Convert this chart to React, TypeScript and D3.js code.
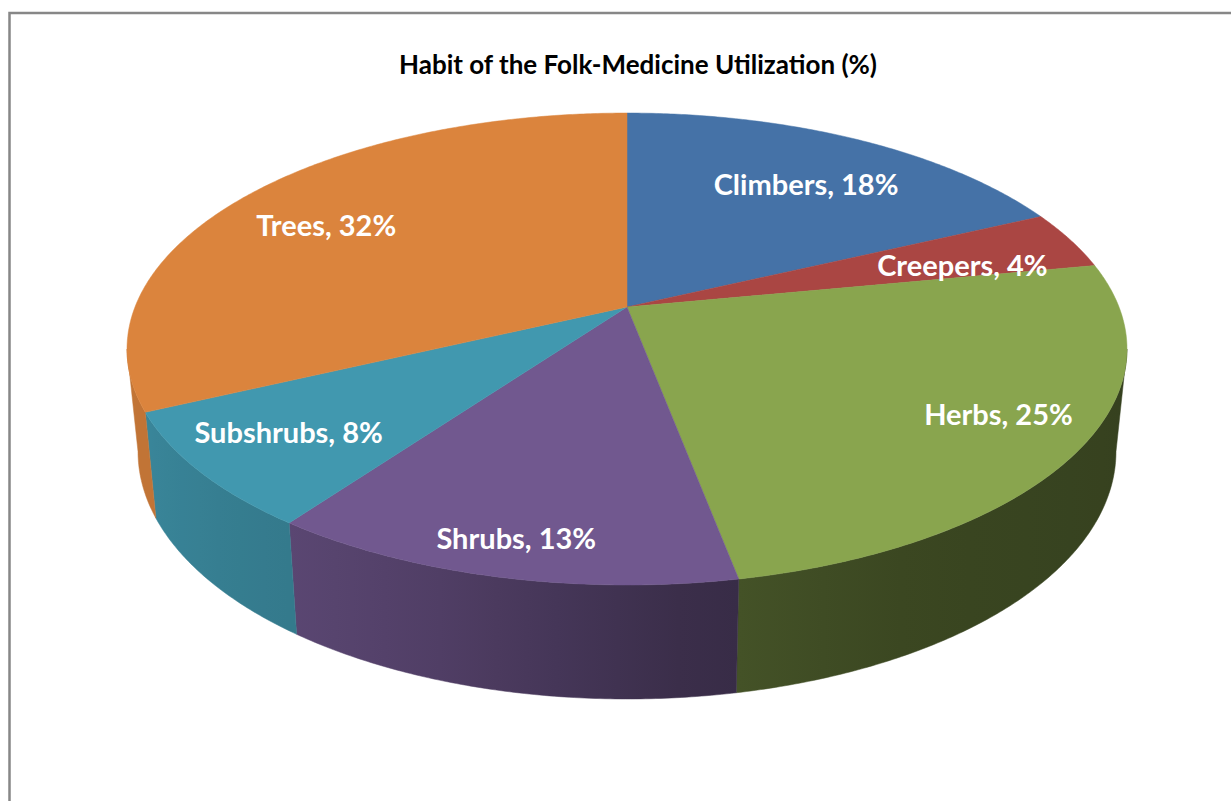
import React from 'react'
import * as d3 from 'd3'

const categories = ['Climbers', 'Creepers', 'Herbs', 'Shrubs', 'Subshrubs', 'Trees']
const shares = [18, 4, 25, 13, 8, 32]
const colors = ['#4572A7', '#AA4643', '#89A54E', '#71588F', '#4198AF', '#DB843D']
// label placement: fraction of radius, and small turn (deg) off the mid angle
const labelRadius = [0.72, 0.73, 0.82, 0.875, 0.8, 0.76]
const labelTurn = [1.6, 2.9, -2.4, 0, 1.2, -1.7]

const W = 1231
const H = 801
const cx = 627
const cy = 307
const A = 492 // horizontal radius
const B = 228.5 // vertical radius
const K = 0.178 // perspective
const S = 0.978 // bottom face shrink

// point on top face, phi clockwise from 12 o'clock
const top = (phi: number, r = 1): [number, number] => {
    const X = r * Math.sin(phi)
    const Z = -r * Math.cos(phi)
    const w = 1 - K * Z
    return [cx + (A * X) / w, cy + (B * Z) / w]
}
const bottom = (phi: number): [number, number] => {
    const [x, y] = top(phi)
    const Z = -Math.cos(phi)
    return [cx + S * (x - cx), y + 100 + 14 * Z]
}

// brightness of the side wall vs facing angle (deg)
const shade = d3.scaleLinear()
    .domain([60, 150, 175, 200, 216, 245, 300])
    .range([0.36, 0.42, 0.52, 0.72, 0.8, 0.88, 0.92])
    .clamp(true)

const darker = (c: string, f: number) => {
    const k = d3.rgb(c)
    return d3.rgb(k.r * f, k.g * f, k.b * f).formatHex()
}

const App = () => {
    const pie = d3.pie<number>().sort(null).value(d => d)
    const arcs = pie(shares)
    const line = d3.line()
    const rad = Math.PI / 180
    // silhouette angles of the cylinder (where the outline is tangent)
    const edgeR = Math.acos(-K)
    const edgeL = 2 * Math.PI - edgeR

    const arcPts = (a0: number, a1: number, f: (p: number) => [number, number]) => {
        const n = Math.max(2, Math.ceil(Math.abs(a1 - a0) / (0.5 * rad)))
        return d3.range(n + 1).map(j => f(a0 + ((a1 - a0) * j) / n))
    }

    // visible side walls, one path per slice with a horizontal gradient
    const walls = arcs.map((a, i) => {
        const lo = Math.max(a.startAngle, edgeR)
        const hi = Math.min(a.endAngle, edgeL)
        if (hi <= lo) return null
        const pts = [...arcPts(lo, hi, top), ...arcPts(hi, lo, bottom)]
        const samples = d3.range(9).map(j => lo + ((hi - lo) * j) / 8)
        const xs = samples.map(p => top(p)[0])
        const x1 = d3.min(xs)!
        const x2 = Math.max(d3.max(xs)!, x1 + 1)
        const stops = samples
            .map(p => ({ off: (top(p)[0] - x1) / (x2 - x1), col: darker(colors[i], shade(p / rad)) }))
            .sort((p, q) => p.off - q.off)
        return { d: line(pts)! + 'Z', x1, x2, stops, i }
    }).filter(Boolean) as { d: string; x1: number; x2: number; stops: { off: number; col: string }[]; i: number }[]

    const slices = arcs.map((a, i) => {
        const pts: [number, number][] = [[cx, cy], ...arcPts(a.startAngle, a.endAngle, p => top(p))]
        return { d: line(pts)! + 'Z', fill: colors[i] }
    })

    const labels = arcs.map((a, i) => {
        const mid = (a.startAngle + a.endAngle) / 2 + labelTurn[i] * rad
        const [x, y] = top(mid, labelRadius[i])
        return { x, y, text: `${categories[i]}, ${shares[i]}%` }
    })

    return (
        <svg width={W} height={H} style={{ position: 'absolute', left: 0, top: 0, background: '#fff' }}>
            <defs>
                {walls.map(w => (
                    <linearGradient key={w.i} id={`wall${w.i}`} gradientUnits="userSpaceOnUse" x1={w.x1} y1={0} x2={w.x2} y2={0}>
                        {w.stops.map((s, j) => (
                            <stop key={j} offset={s.off} stopColor={s.col} />
                        ))}
                    </linearGradient>
                ))}
            </defs>
            <rect x={9.5} y={13} width={1240} height={820} fill="#fff" stroke="#878787" strokeWidth={2.5} />
            <text x={638} y={64} textAnchor="middle" dominantBaseline="central"
                fontFamily="Lato, 'Open Sans', sans-serif" fontWeight="bold" fontSize={26} fill="#000">
                Habit of the Folk-Medicine Utilization (%)
            </text>
            <g>
                {walls.map(w => (
                    <path key={w.i} d={w.d} fill={`url(#wall${w.i})`} stroke={`url(#wall${w.i})`} strokeWidth={0.5} />
                ))}
            </g>
            <g>
                {slices.map((s, i) => (
                    <path key={i} d={s.d} fill={s.fill} stroke={s.fill} strokeWidth={0.5} />
                ))}
            </g>
            <g fontFamily="Lato, 'Open Sans', sans-serif" fontWeight="bold" fontSize={29} fill="#fff">
                {labels.map((l, i) => (
                    <text key={i} x={l.x} y={l.y} textAnchor="middle" dominantBaseline="central">{l.text}</text>
                ))}
            </g>
        </svg>
    )
}

export default App
